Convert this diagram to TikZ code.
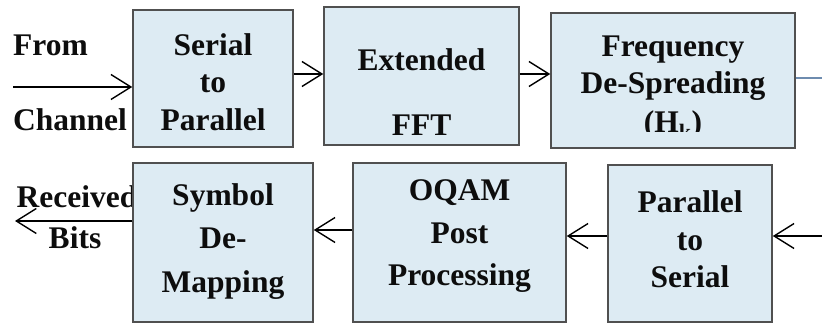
\documentclass[tikz,border=0pt]{standalone}
\usepackage{fontspec}
\setmainfont{Liberation Serif}
\usetikzlibrary{arrows.meta}
\definecolor{boxfill}{RGB}{221,235,243}
\definecolor{boxline}{RGB}{80,80,80}
\definecolor{linkblue}{RGB}{110,140,175}
\begin{document}
\begin{tikzpicture}[x=1pt,y=-1pt,
  blk/.style={draw=boxline, fill=boxfill, line width=1.5pt, inner sep=0pt},
  txt/.style={font=\fontsize{31.5}{36}\selectfont\bfseries, inner sep=0pt, anchor=base, text=black!95},
  arr/.style={line width=1.4pt, -{Straight Barb[length=20pt,width=25pt,line width=1.4pt]}}]
\useasboundingbox (0,0) rectangle (822,323);

% labels outside the boxes (drawn first so the boxes sit on top)
\node[txt, anchor=base west] (from) at (13,55.5) {From};
\node[txt, anchor=base west] (chan) at (13,130.5) {Channel};
\node[txt] (recv) at (77,207.5) {Received};
\node[txt] (bits) at (75,248.5) {Bits};

% top row
\node[blk, minimum width=160pt, minimum height=137pt] (sp)   at (213,78.5) {};
\node[blk, minimum width=195pt, minimum height=138pt] (fft)  at (421.5,76) {};
\node[blk, minimum width=244pt, minimum height=135pt] (fds)  at (673,80.5) {};
% bottom row
\node[blk, minimum width=180pt, minimum height=159pt] (sdm)  at (223,242.5) {};
\node[blk, minimum width=213pt, minimum height=159pt] (oqam) at (459.5,242.5) {};
\node[blk, minimum width=164pt, minimum height=157pt] (ps)   at (690,243.5) {};

% box texts
\node[txt] (sp1) at (213,55.5) {Serial};
\node[txt] (sp2) at (213,93) {to};
\node[txt] (sp3) at (213,130.5) {Parallel};

\node[txt] (fft1) at (421.5,70.5) {Extended};
\node[txt] (fft2) at (421.5,135.5) {FFT};

\node[txt] (fds1) at (673,57) {Frequency};
\node[txt] (fds2) at (673,94) {De-Spreading};
% the last line is cut off by its text frame
\begin{scope}
  \clip (551,14) rectangle (795,132);
  \node[txt] (fds3) at (673,133) {(H\textsubscript{k})};
\end{scope}

\node[txt] (sdm1) at (223,205.5) {Symbol};
\node[txt] (sdm2) at (223,248.5) {De-};
\node[txt] (sdm3) at (223,292) {Mapping};

\node[txt] (oq1) at (459.5,200.5) {OQAM};
\node[txt] (oq2) at (459.5,243.5) {Post};
\node[txt] (oq3) at (459.5,285.5) {Processing};

\node[txt] (ps1) at (690,212.5) {Parallel};
\node[txt] (ps2) at (690,250.5) {to};
\node[txt] (ps3) at (690,287.5) {Serial};

% connector levels and free ends
\coordinate (in0) at (13,87);
\coordinate (lv1) at (0,74);
\coordinate (lv2) at (0,78);
\coordinate (out0) at (822,78);
\coordinate (in1) at (822,236);
\coordinate (lv3) at (0,236);
\coordinate (lv4) at (0,230);
\coordinate (out1) at (15,221);

% connectors
\draw[arr] (in0) -- (sp.west |- in0);
\draw[arr] (sp.east |- lv1) -- (fft.west |- lv1);
\draw[arr] (fft.east |- lv1) -- (fds.west |- lv1);
\draw[linkblue, line width=2pt] (fds.east |- lv2) -- (out0);
\draw[arr] (in1) -- (ps.east |- in1);
\draw[arr] (ps.west |- lv3) -- (oqam.east |- lv3);
\draw[arr] (oqam.west |- lv4) -- (sdm.east |- lv4);
\draw[arr] (sdm.west |- out1) -- (out1);
\end{tikzpicture}
\end{document}
